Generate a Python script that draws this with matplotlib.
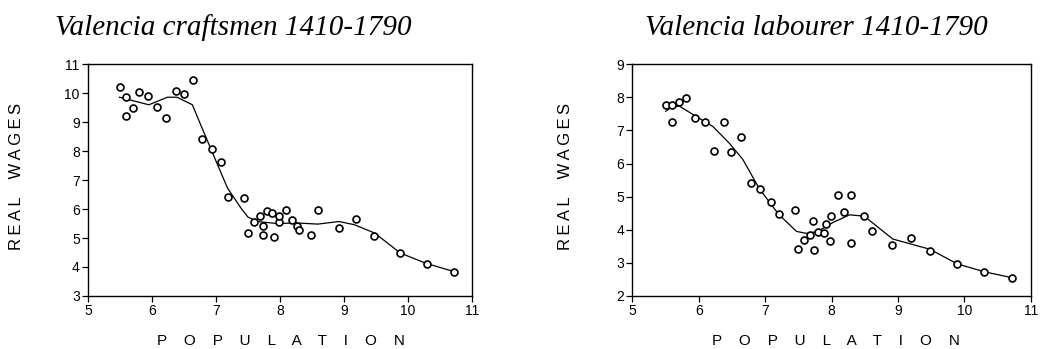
import matplotlib
matplotlib.use("Agg")
import matplotlib.pyplot as plt

# Valencia craftsmen: population vs real wages
pop_craft = [5.50, 5.59, 5.60, 5.70, 5.80, 5.94, 6.08, 6.22, 6.38, 6.50,
             6.64, 6.78, 6.93, 7.08, 7.19, 7.44, 7.50, 7.59, 7.69, 7.73,
             7.73, 7.79, 7.88, 7.91, 7.98, 7.99, 8.10, 8.18, 8.27, 8.29,
             8.49, 8.60, 8.92, 9.18, 9.47, 9.88, 10.29, 10.72]
wage_craft = [10.23, 9.22, 9.87, 9.48, 10.03, 9.92, 9.52, 9.15, 10.07, 9.97,
              10.46, 8.42, 8.07, 7.62, 6.43, 6.38, 5.18, 5.56, 5.76, 5.41,
              5.11, 5.92, 5.88, 5.03, 5.54, 5.77, 5.97, 5.63, 5.43, 5.29,
              5.12, 5.95, 5.34, 5.67, 5.06, 4.48, 4.12, 3.84]
fit_craft_x = [5.49, 5.95, 6.24, 6.39, 6.63, 6.76, 6.97, 7.18, 7.40, 7.50,
               7.65, 7.95, 8.26, 8.59, 8.92, 9.16, 9.48, 9.88, 10.29, 10.72]
fit_craft_y = [9.86, 9.60, 9.86, 9.86, 9.60, 8.91, 7.81, 6.72, 6.00, 5.72,
               5.57, 5.50, 5.52, 5.48, 5.57, 5.46, 5.17, 4.48, 4.12, 3.84]

# Valencia labourer
pop_lab = [5.50, 5.59, 5.60, 5.70, 5.81, 5.94, 6.09, 6.23, 6.38, 6.49,
           6.63, 6.78, 6.92, 7.08, 7.20, 7.45, 7.50, 7.59, 7.68, 7.72,
           7.74, 7.80, 7.89, 7.91, 7.98, 7.99, 8.10, 8.18, 8.29, 8.29,
           8.49, 8.60, 8.91, 9.19, 9.48, 9.89, 10.30, 10.72]
wage_lab = [7.78, 7.26, 7.77, 7.85, 7.99, 7.38, 7.26, 6.38, 7.25, 6.34,
            6.80, 5.42, 5.22, 4.85, 4.47, 4.60, 3.41, 3.69, 3.83, 4.27,
            3.38, 3.92, 3.91, 4.16, 3.67, 4.43, 5.05, 4.55, 5.05, 3.60,
            4.41, 3.95, 3.54, 3.75, 3.36, 2.97, 2.73, 2.55]
fit_lab_x = [5.50, 5.61, 5.71, 5.96, 6.21, 6.46, 6.66, 6.91, 7.20, 7.47,
             7.62, 7.79, 8.02, 8.27, 8.49, 8.92, 9.48, 9.89, 10.30, 10.72]
fit_lab_y = [7.58, 7.73, 7.73, 7.42, 7.12, 6.61, 6.13, 5.24, 4.47, 3.95,
             3.89, 3.95, 4.22, 4.45, 4.41, 3.72, 3.41, 2.97, 2.73, 2.55]

titles = ["Valencia craftsmen 1410-1790", "Valencia labourer 1410-1790"]
ylims = [(3, 11), (2, 9)]

plt.rcParams["font.family"] = ["Liberation Sans", "DejaVu Sans"]

fig = plt.figure(figsize=(10.42, 3.49), dpi=100)
ax1 = fig.add_axes([0.0845, 0.152, 0.3685, 0.664])
ax2 = fig.add_axes([0.607, 0.152, 0.3823, 0.664])

panels = [(ax1, pop_craft, wage_craft, fit_craft_x, fit_craft_y),
          (ax2, pop_lab, wage_lab, fit_lab_x, fit_lab_y)]

title_x = [55 / 1042, 645 / 1042]
ylab_x = [17 / 1042, 565 / 1042]
xlab_x = [281 / 1042, 836 / 1042]

thin = "\u2009"
ylabel = thin.join("REAL") + "    " + thin.join("WAGES")
xlabel = "    ".join("POPULATION")

for i, (ax, px, py, fx, fy) in enumerate(panels):
    ax.plot(fx, fy, color="black", lw=0.9)
    ax.plot(px, py, linestyle="none", marker="o", markersize=5,
            markerfacecolor="white", markeredgecolor="black", markeredgewidth=1.2)
    ax.set_xlim(5, 11)
    ax.set_ylim(*ylims[i])
    ax.set_xticks(range(5, 12))
    ax.set_yticks(range(ylims[i][0], ylims[i][1] + 1))
    ax.tick_params(direction="out", length=4, width=0.9, labelsize=10, pad=2,
                   top=False, right=False)
    for s in ax.spines.values():
        s.set_linewidth(1.0)

    fig.text(title_x[i], 1 - 35 / 349, titles[i], family="Liberation Serif",
             style="italic", fontsize=21, ha="left", va="baseline")
    fig.text(ylab_x[i], 1 - 177 / 349, ylabel, rotation=90,
             fontsize=12, ha="center", va="center")
    fig.text(xlab_x[i], 1 - 341 / 349, xlabel,
             fontsize=11, ha="center", va="center")

fig.savefig("out.png", dpi=100)
